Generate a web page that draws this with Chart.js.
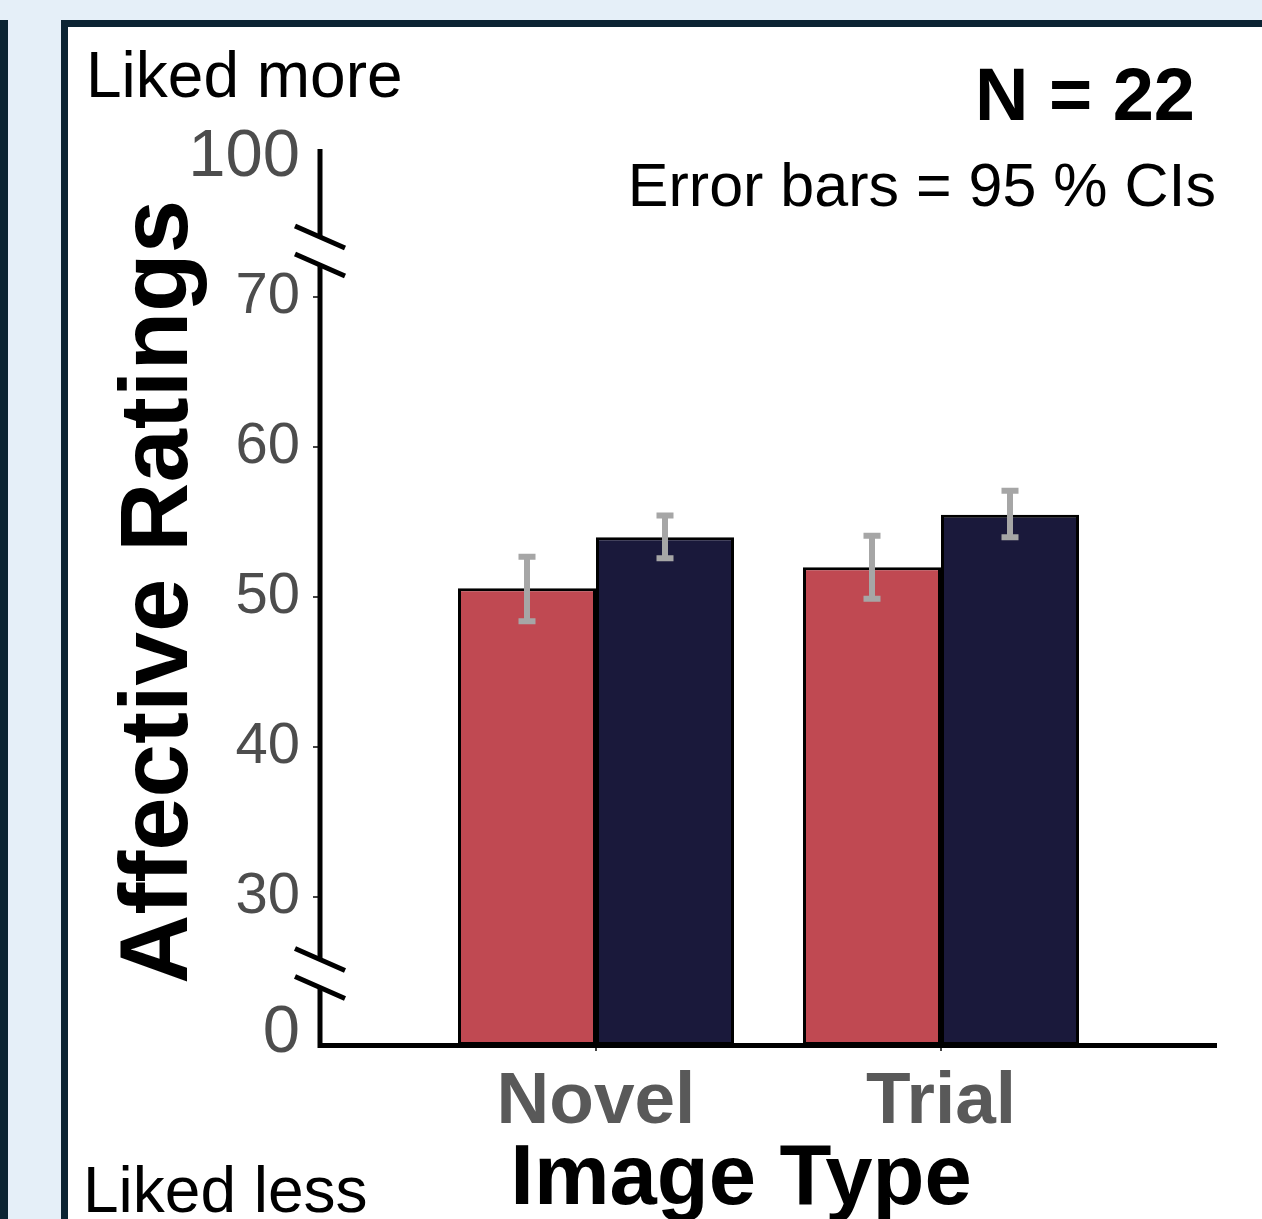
<!DOCTYPE html>
<html><head><meta charset="utf-8">
<script src="https://cdn.jsdelivr.net/npm/chart.js@4.4.1/dist/chart.umd.min.js"></script>
<style>html,body{margin:0;padding:0;background:#e5eff8;overflow:hidden}canvas{display:block}</style>
</head><body>
<canvas id="c" width="1262" height="1219"></canvas>
<script>
// ---- data ----
const categories = ['Novel', 'Trial'];
const redMeans  = [50.6, 52.0];
const redLow    = [48.4, 49.9];
const redHigh   = [52.7, 54.1];
const navyMeans = [54.0, 55.5];
const navyLow   = [52.6, 54.0];
const navyHigh  = [55.45, 57.1];
const yTickValues = [0, 30, 40, 50, 60, 70, 100];
const yTickLabels = ['0', '30', '40', '50', '60', '70', '100'];

// ---- broken axis (30..70 linear, 0 and 100 squeezed past breaks) ----
const AXIS_MIN = 20.13, AXIS_MAX = 79.9;
const BREAKS = [24.9, 73.1];
function toDisplay(v) {
  if (v >= 30 && v <= 70) return v;
  if (v < 30) return 30 - (30 - v) * (9.1 / 30);
  return 70 + (v - 70) * (9.3 / 30);
}

const FONT = "'Liberation Sans', Arial, Helvetica, sans-serif";
Chart.defaults.font.family = FONT;

const bgPlugin = {
  id: 'bg',
  beforeDraw(chart) {
    const ctx = chart.ctx, W = chart.width, H = chart.height;
    ctx.save();
    ctx.fillStyle = '#e5eff8'; ctx.fillRect(0, 0, W, H);
    ctx.fillStyle = '#0b2433';
    ctx.fillRect(0, 20, 8, H - 20);
    ctx.fillRect(61, 20, W - 61, H - 20);
    ctx.fillStyle = '#ffffff';
    ctx.fillRect(68, 27, W - 68, H - 27);
    ctx.restore();
  }
};

const errorBarPlugin = {
  id: 'errorBars',
  afterDatasetsDraw(chart) {
    const ctx = chart.ctx, y = chart.scales.y;
    const lows = [redLow, navyLow], highs = [redHigh, navyHigh];
    chart.data.datasets.forEach((ds, di) => {
      chart.getDatasetMeta(di).data.forEach((bar, i) => {
        const x = bar.x;
        const yl = y.getPixelForValue(toDisplay(lows[di][i]));
        const yh = y.getPixelForValue(toDisplay(highs[di][i]));
        ctx.save();
        ctx.strokeStyle = '#a6a6a6'; ctx.lineWidth = 6; ctx.lineCap = 'butt';
        ctx.beginPath(); ctx.moveTo(x, yl); ctx.lineTo(x, yh); ctx.stroke();
        ctx.beginPath();
        ctx.moveTo(x - 8.5, yl); ctx.lineTo(x + 8.5, yl);
        ctx.moveTo(x - 8.5, yh); ctx.lineTo(x + 8.5, yh);
        ctx.stroke();
        ctx.restore();
      });
    });
  }
};

const axisPlugin = {
  id: 'axes',
  afterDraw(chart) {
    const ctx = chart.ctx, a = chart.chartArea, y = chart.scales.y;
    const x0 = a.left;
    const b0 = y.getPixelForValue(BREAKS[0]), b1 = y.getPixelForValue(BREAKS[1]);
    const gap = 14, dx = 25, dy = 11;
    ctx.save();
    ctx.strokeStyle = '#000'; ctx.lineWidth = 5; ctx.lineCap = 'butt';
    ctx.beginPath();
    ctx.moveTo(x0, a.top); ctx.lineTo(x0, b1 - gap);
    ctx.moveTo(x0, b1 + gap); ctx.lineTo(x0, b0 - gap);
    ctx.moveTo(x0, b0 + gap); ctx.lineTo(x0, a.bottom + 3);
    ctx.moveTo(x0 - 2.5, a.bottom + 0.5); ctx.lineTo(a.right, a.bottom + 0.5);
    ctx.stroke();
    ctx.beginPath();
    [b1, b0].forEach(b => {
      [-gap, gap].forEach(o => {
        ctx.moveTo(x0 - dx, b + o - dy); ctx.lineTo(x0 + dx, b + o + dy);
      });
    });
    ctx.stroke();
    ctx.restore();
  }
};

const textPlugin = {
  id: 'texts',
  afterDraw(chart) {
    const ctx = chart.ctx;
    ctx.save();
    ctx.fillStyle = '#000';
    ctx.textBaseline = 'alphabetic';
    ctx.textAlign = 'left';
    ctx.font = '64px ' + FONT;
    ctx.fillText('Liked more', 86, 97);
    ctx.fillText('Liked less', 83, 1212);
    ctx.textAlign = 'right';
    ctx.font = 'bold 74px ' + FONT;
    ctx.fillText('N = 22', 1195, 120);
    ctx.font = '61px ' + FONT;
    ctx.fillText('Error bars = 95 % CIs', 1216, 206);
    ctx.textAlign = 'center';
    ctx.font = 'bold 85px ' + FONT;
    ctx.fillText('Image Type', 741, 1204);
    ctx.translate(187, 592);
    ctx.rotate(-Math.PI / 2);
    ctx.font = 'bold 96px ' + FONT;
    ctx.fillText('Affective Ratings', 0, 0);
    ctx.restore();
  }
};

const isEnd = (i) => i === 0 || i === yTickValues.length - 1;

new Chart(document.getElementById('c'), {
  type: 'bar',
  data: {
    datasets: [
      {
        data: categories.map((c, i) => ({ x: i + 1, y: toDisplay(redMeans[i]) })),
        backgroundColor: '#c04952', borderColor: '#000', borderWidth: 3,
        borderSkipped: false, base: AXIS_MIN
      },
      {
        data: categories.map((c, i) => ({ x: i + 1, y: toDisplay(navyMeans[i]) })),
        backgroundColor: '#1a193b', borderColor: '#000', borderWidth: 3,
        borderSkipped: false, base: AXIS_MIN
      }
    ]
  },
  options: {
    responsive: false,
    animation: false,
    devicePixelRatio: 1,
    categoryPercentage: 0.8,
    barPercentage: 1.0,
    layout: { padding: { left: 95, top: 149, right: 45, bottom: 0 } },
    plugins: { legend: { display: false }, tooltip: { enabled: false } },
    scales: {
      x: {
        type: 'linear', min: 0.2, max: 2.8, offset: false,
        afterBuildTicks: (s) => { s.ticks = categories.map((c, i) => ({ value: i + 1 })); },
        afterFit: (s) => { s.height = 174; },
        ticks: {
          callback: (v, i) => categories[i],
          font: { size: 73, weight: 'bold' }, color: '#595959', padding: 8,
          maxRotation: 0, autoSkip: false
        },
        grid: { drawOnChartArea: false, drawTicks: true, tickLength: 6, color: '#444', lineWidth: 2, offset: false },
        border: { display: false }
      },
      y: {
        type: 'linear', min: AXIS_MIN, max: AXIS_MAX, beginAtZero: false,
        afterBuildTicks: (s) => { s.ticks = yTickValues.map(v => ({ value: toDisplay(v) })); },
        afterFit: (s) => { s.width = 225; },
        ticks: {
          callback: (v, i) => yTickLabels[i],
          font: (ctx) => ({ size: isEnd(ctx.index) ? 67 : 58 }),
          color: '#4d4d4d', padding: 13, autoSkip: false
        },
        grid: {
          drawOnChartArea: false, drawTicks: true, tickLength: 7, lineWidth: 2,
          color: (ctx) => isEnd(ctx.index) ? 'rgba(0,0,0,0)' : '#444'
        },
        border: { display: false }
      }
    }
  },
  plugins: [bgPlugin, errorBarPlugin, axisPlugin, textPlugin]
});
</script>
</body></html>
